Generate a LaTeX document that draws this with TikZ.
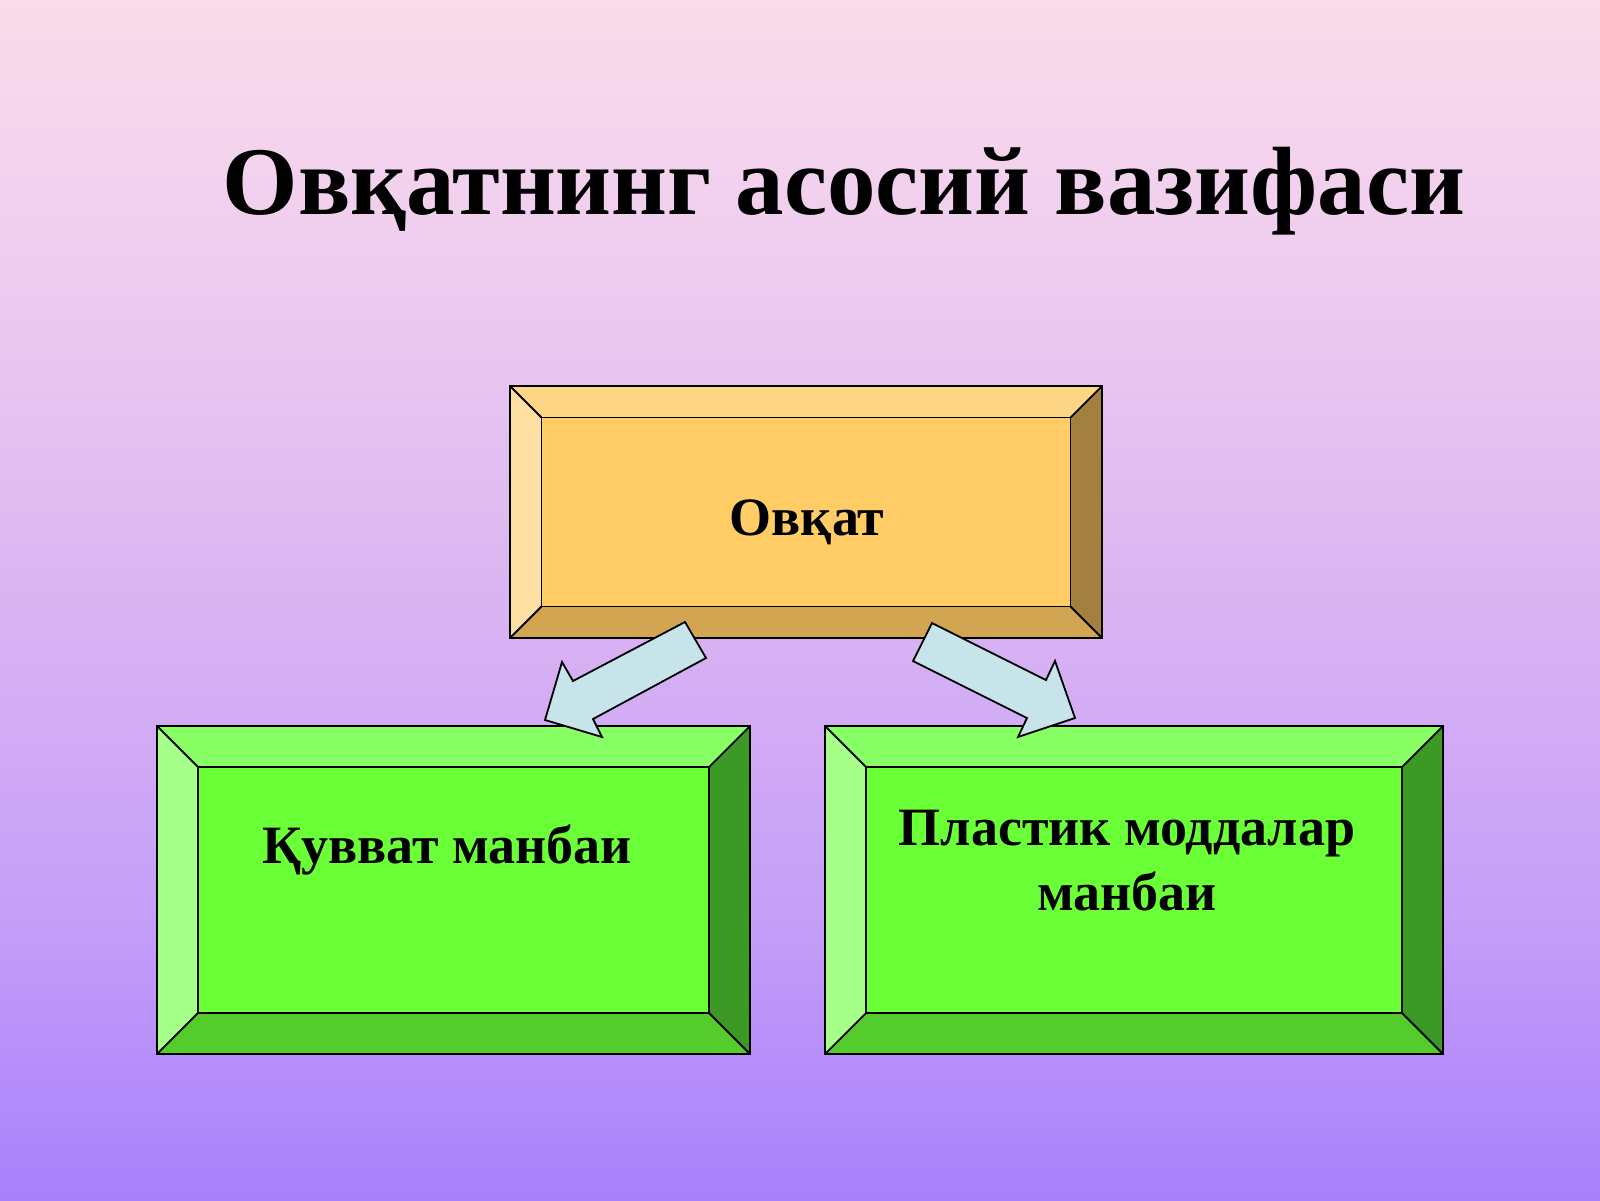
\documentclass[tikz,border=0pt]{standalone}
\usepackage{fontspec}
\setmainfont{Liberation Serif}
\usetikzlibrary{calc}
\definecolor{bgA}{HTML}{FADCEA}
\definecolor{bgA2}{HTML}{EDCAF0}
\definecolor{bgB}{HTML}{DAB4F2}
\definecolor{bgB2}{HTML}{C6A0F8}
\definecolor{bgC}{HTML}{A880FC}
\pgfdeclareverticalshading{bgshade}{100bp}{color(0bp)=(bgC); color(25bp)=(bgC); color(37.5bp)=(bgB2); color(50bp)=(bgB); color(62.5bp)=(bgA2); color(75bp)=(bgA); color(100bp)=(bgA)}
% orange box colours
\definecolor{oface}{HTML}{FFCC66}
\definecolor{otop}{HTML}{FFD685}
\definecolor{oleft}{HTML}{FFE0A3}
\definecolor{oright}{HTML}{A3803F}
\definecolor{obot}{HTML}{D1A552}
% green box colours
\definecolor{gface}{HTML}{6BFF38}
\definecolor{gtop}{HTML}{89FF66}
\definecolor{gleft}{HTML}{A6FF88}
\definecolor{gright}{HTML}{3D9926}
\definecolor{gbot}{HTML}{54CC2B}
\definecolor{arrowfill}{HTML}{C6E4EA}
\newcommand\bevelbox[3]{%
  \fill[#3face] (#1.north west) rectangle (#1.south east);
  \fill[#3top] (#1.north west) -- (#1.north east) -- ([shift={(-#2,#2)}]#1.north east) -- ([shift={(#2,#2)}]#1.north west) -- cycle;
  \fill[#3left] (#1.north west) -- (#1.south west) -- ([shift={(#2,-#2)}]#1.south west) -- ([shift={(#2,#2)}]#1.north west) -- cycle;
  \fill[#3right] (#1.north east) -- (#1.south east) -- ([shift={(-#2,-#2)}]#1.south east) -- ([shift={(-#2,#2)}]#1.north east) -- cycle;
  \fill[#3bot] (#1.south west) -- (#1.south east) -- ([shift={(-#2,-#2)}]#1.south east) -- ([shift={(#2,-#2)}]#1.south west) -- cycle;
  \draw[edge] (#1.north west) rectangle (#1.south east);
  \draw[edge] ([shift={(#2,#2)}]#1.north west) rectangle ([shift={(-#2,-#2)}]#1.south east);
  \draw[edge] (#1.north west) -- ([shift={(#2,#2)}]#1.north west);
  \draw[edge] (#1.north east) -- ([shift={(-#2,#2)}]#1.north east);
  \draw[edge] (#1.south west) -- ([shift={(#2,-#2)}]#1.south west);
  \draw[edge] (#1.south east) -- ([shift={(-#2,-#2)}]#1.south east);
}
\tikzset{
  edge/.style={draw=black, line width=0.9pt, line join=miter},
  boxframe/.style={inner sep=0pt, outer sep=0pt},
  title/.style={font=\fontsize{48.5}{54}\selectfont\bfseries, inner sep=0pt, anchor=base},
  label/.style={font=\fontsize{27}{30}\selectfont\bfseries, inner sep=0pt, anchor=base},
  blockarrow/.style={fill=arrowfill, draw=black, line width=0.9pt, line join=miter},
}
\begin{document}
\begin{tikzpicture}[x=0.5pt,y=-0.5pt]
\useasboundingbox (0,0) rectangle (1600,1200);
\shade[shading=bgshade] (0,0) rectangle (1600,1200);

\node[title] (title) at (844,214) {Овқатнинг асосий вазифаси};

% frames
\node[boxframe, minimum width=296pt, minimum height=126pt] (food) at (806,512) {};
\node[boxframe, minimum width=296.5pt, minimum height=164pt] (energy) at (453.5,890) {};
\node[boxframe, minimum width=309pt, minimum height=164pt] (plastic) at (1134,890) {};

\bevelbox{food}{31.5}{o}
\bevelbox{energy}{41}{g}
\bevelbox{plastic}{41}{g}

\node[label] (foodtext) at (807,535) {Овқат};
\node[label] (energytext) at (447,863) {Қувват манбаи};
\node[label] (plastictext1) at (1127,845) {Пластик моддалар};
\node[label] (plastictext2) at (1127,910) {манбаи};

% block arrows
\draw[blockarrow] (685,622) -- (573,681) -- (562,662) -- (545,720) -- (602,737) -- (593,719) -- (706,658) -- cycle;
\draw[blockarrow] (932,623) -- (1046,680) -- (1055,661) -- (1075,718) -- (1018,737) -- (1027,718) -- (913,661) -- cycle;
\end{tikzpicture}
\end{document}
